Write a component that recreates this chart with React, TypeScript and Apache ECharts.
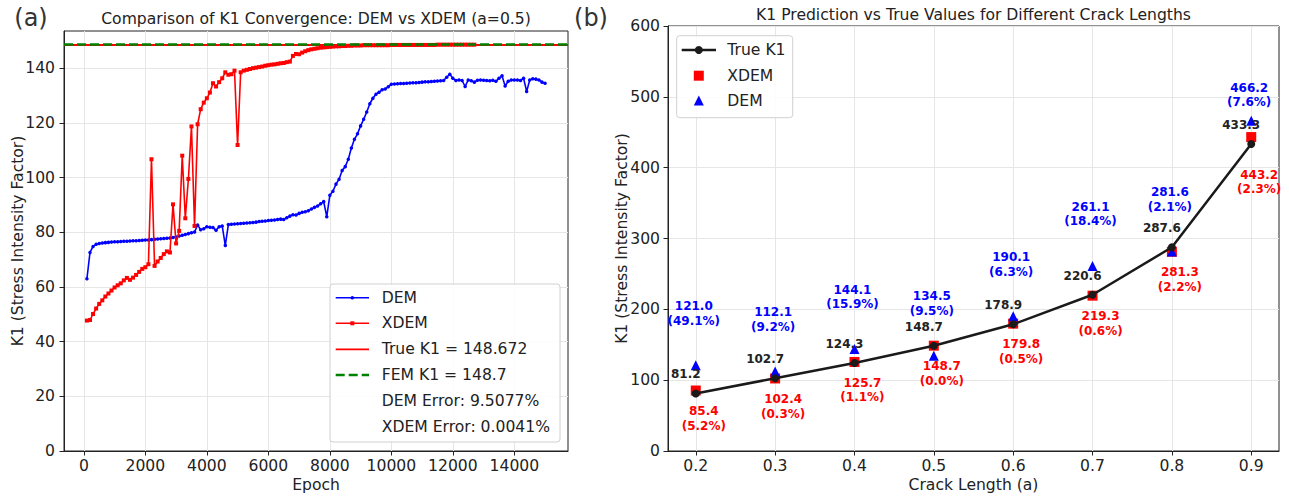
import React, { useEffect, useRef } from 'react';
import * as echarts from 'echarts';

// ---------- Panel (a): convergence history ----------
const EPOCHS = [
  100, 200, 300, 400, 500, 600, 700, 800, 900, 1000,
  1100, 1200, 1300, 1400, 1500, 1600, 1700, 1800, 1900, 2000,
  2100, 2200, 2300, 2400, 2500, 2600, 2700, 2800, 2900, 3000,
  3100, 3200, 3300, 3400, 3500, 3600, 3700, 3800, 3900, 4000,
  4100, 4200, 4300, 4400, 4500, 4600, 4700, 4800, 4900, 5000,
  5100, 5200, 5300, 5400, 5500, 5600, 5700, 5800, 5900, 6000,
  6100, 6200, 6300, 6400, 6500, 6600, 6700, 6800, 6900, 7000,
  7100, 7200, 7300, 7400, 7500, 7600, 7700, 7800, 7900, 8000,
  8100, 8200, 8300, 8400, 8500, 8600, 8700, 8800, 8900, 9000,
  9100, 9200, 9300, 9400, 9500, 9600, 9700, 9800, 9900, 10000,
  10100, 10200, 10300, 10400, 10500, 10600, 10700, 10800, 10900, 11000,
  11100, 11200, 11300, 11400, 11500, 11600, 11700, 11800, 11900, 12000,
  12100, 12200, 12300, 12400, 12500, 12600, 12700, 12800, 12900, 13000,
  13100, 13200, 13300, 13400, 13500, 13600, 13700, 13800, 13900, 14000,
  14100, 14200, 14300, 14400, 14500, 14600, 14700, 14800, 14900, 15000,
];

const DEM_K1 = [
  63.0, 72.6, 74.8, 75.6, 75.9, 76.1, 76.2, 76.3, 76.4, 76.5,
  76.5, 76.6, 76.7, 76.7, 76.8, 76.9, 76.9, 77.0, 77.1, 77.2,
  77.2, 77.3, 77.4, 77.5, 77.6, 77.7, 77.8, 77.9, 78.1, 78.3,
  78.6, 78.9, 79.2, 79.5, 79.8, 80.1, 82.6, 80.9, 81.3, 82.0,
  81.8, 81.7, 80.7, 82.0, 82.3, 75.2, 82.8, 82.9, 83.0, 83.1,
  83.2, 83.3, 83.4, 83.5, 83.6, 83.7, 83.9, 84.0, 84.1, 84.3,
  84.4, 84.5, 84.7, 84.8, 84.7, 85.3, 85.9, 86.4, 86.3, 86.9,
  87.3, 87.5, 87.9, 88.5, 89.1, 89.6, 90.4, 91.2, 85.7, 93.5,
  95.0, 97.6, 99.4, 102.6, 104.0, 106.7, 110.8, 114.0, 116.0, 118.9,
  121.3, 124.0, 127.0, 129.0, 130.5, 131.2, 132.1, 132.4, 133.2, 134.1,
  134.2, 134.3, 134.4, 134.4, 134.5, 134.6, 134.7, 134.7, 134.8, 134.9,
  135.0, 135.0, 135.1, 135.2, 135.3, 135.4, 135.5, 136.7, 137.8, 136.3,
  135.5, 135.7, 135.5, 133.3, 135.7, 135.4, 134.9, 135.6, 135.7, 135.6,
  135.5, 135.4, 135.6, 135.2, 136.3, 137.2, 133.5, 135.2, 135.7, 135.7,
  135.7, 135.5, 136.3, 131.5, 135.7, 136.1, 136.0, 135.7, 134.9, 134.5,
];

const XDEM_K1 = [
  47.7, 47.9, 50.1, 52.1, 53.8, 55.1, 56.5, 57.6, 58.7, 59.8,
  60.6, 61.3, 62.4, 63.3, 62.6, 63.4, 64.4, 65.5, 66.6, 67.2,
  68.3, 106.7, 67.7, 69.3, 70.6, 72.0, 73.0, 72.6, 90.2, 75.9,
  80.5, 108.0, 85.1, 99.5, 118.7, 82.3, 119.5, 125.0, 127.4, 129.0,
  131.1, 134.5, 133.3, 134.9, 136.3, 138.5, 137.6, 137.8, 139.1, 111.9,
  138.5, 139.1, 139.4, 139.7, 140.0, 140.2, 140.4, 140.6, 140.9, 141.1,
  141.3, 141.4, 141.6, 141.8, 141.9, 142.2, 142.4, 144.5, 145.2, 145.1,
  145.7, 146.2, 146.6, 146.9, 147.1, 147.3, 147.5, 147.6, 147.7, 147.8,
  147.9, 148.0, 148.0, 148.1, 148.1, 148.2, 148.2, 148.3, 148.3, 148.3,
  148.4, 148.4, 148.4, 148.4, 148.4, 148.4, 148.4, 148.4, 148.4, 148.5,
  148.5, 148.5, 148.5, 148.5, 148.5, 148.5, 148.5, 148.5, 148.5, 148.5,
  148.5, 148.5, 148.5, 148.5, 148.6, 148.6, 148.6, 148.6, 148.6, 148.6,
  148.6, 148.6, 148.6, 148.6, 148.6, 148.6, 148.6,
];

const TRUE_K1_A = 148.672;
const FEM_K1_A = 148.7;
const DEM_ERROR_TEXT = 'DEM Error: 9.5077%';
const XDEM_ERROR_TEXT = 'XDEM Error: 0.0041%';
const EPOCH_TICKS = [0, 2000, 4000, 6000, 8000, 10000, 12000, 14000];
const K1_TICKS_A = [0, 20, 40, 60, 80, 100, 120, 140];

// ---------- Panel (b): predictions vs crack length ----------
const CRACK = [0.2, 0.3, 0.4, 0.5, 0.6, 0.7, 0.8, 0.9];
const TRUE_K1 = [81.2, 102.7, 124.3, 148.7, 178.9, 220.6, 287.6, 433.3];
const XDEM_PRED = [85.4, 102.4, 125.7, 148.7, 179.8, 219.3, 281.3, 443.2];
const XDEM_ERR = [5.2, 0.3, 1.1, 0.0, 0.5, 0.6, 2.2, 2.3];
const DEM_PRED = [121.0, 112.1, 144.1, 134.5, 190.1, 261.1, 281.6, 466.2];
const DEM_ERR = [49.1, 9.2, 15.9, 9.5, 6.3, 18.4, 2.1, 7.6];
const CRACK_TICKS = [0.2, 0.3, 0.4, 0.5, 0.6, 0.7, 0.8, 0.9];

const FONT = '"DejaVu Sans", sans-serif';
const TXT = '#222222';
const GRIDC = '#e6e6e6';
const FS = 15.6;

function txt(x: number, y: number, text: string, opts: any = {}) {
  const align = opts.align || 'center';
  const valign = opts.valign || 'middle';
  return {
    type: 'text',
    x,
    y,
    rotation: opts.rotation || 0,
    z: 100,
    style: {
      text,
      fill: opts.color || TXT,
      fontSize: opts.size || FS,
      fontFamily: FONT,
      fontWeight: opts.weight || 'normal',
      align,
      verticalAlign: valign,
      textAlign: align,
      textVerticalAlign: valign,
    },
  };
}

function hline(x1: number, x2: number, y: number, color: string, width: number, dash?: number[]) {
  return {
    type: 'line',
    z: 101,
    shape: { x1, y1: y, x2, y2: y },
    style: { stroke: color, lineWidth: width, lineDash: dash || null },
  };
}

function buildOption() {
  const demData = EPOCHS.map((e, i) => [e, DEM_K1[i]]);
  const xdemData = XDEM_K1.map((v, i) => [EPOCHS[i], v]);
  const last = CRACK.length - 1;

  const trueData = CRACK.map((c, i) => ({
    value: [c, TRUE_K1[i]],
  }));
  const xdemPts = CRACK.map((c, i) => ({
    value: [c, XDEM_PRED[i]],
    label: { offset: i === last ? [8, 45] : [8, 28] },
  }));
  const demPts = CRACK.map((c, i) => ({
    value: [c, DEM_PRED[i]],
    label: { offset: i === last ? [-2, -26] : [-2, -52] },
  }));

  const boldLabel = {
    show: true,
    position: 'inside',
    fontSize: 12,
    fontWeight: 'bold',
    fontFamily: FONT,
    lineHeight: 14.5,
    align: 'center',
    textBorderWidth: 0,
    textBorderColor: 'transparent',
    opacity: 1,
  };

  const axisCommon = {
    axisLine: { show: true, onZero: false, lineStyle: { color: TXT, width: 1 } },
    axisTick: { show: true, length: 4.5, lineStyle: { color: TXT, width: 1 } },
    axisLabel: { color: TXT, fontSize: FS, fontFamily: FONT, formatter: (v: number) => String(v) },
    splitLine: { show: true, lineStyle: { color: GRIDC, width: 1 } },
  };

  // left legend geometry
  const L = { x: 330, y: 284, w: 230, h: 158 };
  const lRows = [297.7, 323.3, 349.3, 375, 401, 426.6];
  const lx1 = 335.7, lx2 = 369, lxm = 352.3, ltx = 381.7;
  // right legend geometry
  const R = { x: 676.7, y: 35.7, w: 116, h: 82 };
  const rRows = [50, 75.7, 101];
  const rx1 = 681.7, rx2 = 716, rxm = 698.8, rtx = 727.3;

  return {
    animation: false,
    backgroundColor: '#ffffff',
    grid: [
      { left: 64, top: 31, width: 504, height: 420, show: true, borderColor: TXT, borderWidth: 1, backgroundColor: 'transparent' },
      { left: 668, top: 26, width: 611, height: 425, show: true, borderColor: TXT, borderWidth: 1, backgroundColor: 'transparent' },
    ],
    xAxis: [
      {
        type: 'value', gridIndex: 0, min: -645, max: 15745,
        ...axisCommon,
        axisTick: { ...axisCommon.axisTick, customValues: EPOCH_TICKS },
        axisLabel: { ...axisCommon.axisLabel, margin: 7, customValues: EPOCH_TICKS },
      },
      {
        type: 'value', gridIndex: 1, min: 0.165, max: 0.935,
        ...axisCommon,
        axisTick: { ...axisCommon.axisTick, customValues: CRACK_TICKS },
        axisLabel: { ...axisCommon.axisLabel, margin: 7, customValues: CRACK_TICKS, formatter: (v: number) => v.toFixed(1) },
      },
    ],
    yAxis: [
      {
        type: 'value', gridIndex: 0, min: 0, max: 153.6,
        ...axisCommon,
        axisTick: { ...axisCommon.axisTick, customValues: K1_TICKS_A },
        axisLabel: { ...axisCommon.axisLabel, margin: 9, customValues: K1_TICKS_A },
      },
      {
        type: 'value', gridIndex: 1, min: 0, max: 600, interval: 100,
        ...axisCommon,
        axisLabel: { ...axisCommon.axisLabel, margin: 8 },
      },
    ],
    series: [
      {
        name: 'DEM', type: 'line', xAxisIndex: 0, yAxisIndex: 0,
        data: demData, showAllSymbol: true, symbol: 'circle', symbolSize: 3.5,
        itemStyle: { color: '#0000ff' }, lineStyle: { color: '#0000ff', width: 1.6 },
        z: 3,
      },
      {
        name: 'XDEM', type: 'line', xAxisIndex: 0, yAxisIndex: 0,
        data: xdemData, showAllSymbol: true, symbol: 'rect', symbolSize: 4,
        itemStyle: { color: '#ff0000' }, lineStyle: { color: '#ff0000', width: 1.6 },
        z: 4,
        markLine: {
          silent: true, symbol: 'none', label: { show: false }, animation: false,
          data: [
            { yAxis: TRUE_K1_A, lineStyle: { color: '#ff0000', width: 1.8, type: 'solid' } },
            { yAxis: FEM_K1_A, lineStyle: { color: '#008000', width: 2.5, type: [9, 4] } },
          ],
        },
      },
      {
        name: 'XDEM pred', type: 'scatter', xAxisIndex: 1, yAxisIndex: 1,
        data: xdemPts, symbol: 'rect', symbolSize: 10,
        itemStyle: { color: '#ff0000', opacity: 1 }, z: 2,
        label: {
          ...boldLabel, color: '#ff0000',
          formatter: (p: any) => `${XDEM_PRED[p.dataIndex].toFixed(1)}\n(${XDEM_ERR[p.dataIndex].toFixed(1)}%)`,
        },
      },
      {
        name: 'DEM pred', type: 'scatter', xAxisIndex: 1, yAxisIndex: 1,
        data: demPts, symbol: 'triangle', symbolSize: 10,
        itemStyle: { color: '#0000ff', opacity: 1 }, z: 3,
        label: {
          ...boldLabel, color: '#0000ff',
          formatter: (p: any) => `${DEM_PRED[p.dataIndex].toFixed(1)}\n(${DEM_ERR[p.dataIndex].toFixed(1)}%)`,
        },
      },
      {
        name: 'True K1', type: 'line', xAxisIndex: 1, yAxisIndex: 1,
        data: trueData, symbol: 'circle', symbolSize: 8, showAllSymbol: true,
        itemStyle: { color: '#1a1a1a' }, lineStyle: { color: '#1a1a1a', width: 2.5 },
        z: 4,
        label: {
          ...boldLabel, color: '#222222', offset: [-10, -19],
          formatter: (p: any) => TRUE_K1[p.dataIndex].toFixed(1),
        },
      },
    ],
    graphic: [
      // panel labels and titles
      txt(31, 18, '(a)', { size: 24, color: '#333333' }),
      txt(591, 18, '(b)', { size: 24, color: '#333333' }),
      txt(316, 19, 'Comparison of K1 Convergence: DEM vs XDEM (a=0.5)', {}),
      txt(973.5, 15, 'K1 Prediction vs True Values for Different Crack Lengths', {}),
      // axis names
      txt(316, 485, 'Epoch', {}),
      txt(973.5, 485, 'Crack Length (a)', {}),
      txt(18.3, 241, 'K1 (Stress Intensity Factor)', { rotation: Math.PI / 2 }),
      txt(622, 238.5, 'K1 (Stress Intensity Factor)', { rotation: Math.PI / 2 }),
      // left legend
      {
        type: 'rect', z: 99,
        shape: { x: L.x, y: L.y, width: L.w, height: L.h, r: 3 },
        style: { fill: 'rgba(255,255,255,0.85)', stroke: '#d0d0d0', lineWidth: 1 },
      },
      hline(lx1, lx2, lRows[0], '#0000ff', 1.6),
      { type: 'circle', z: 102, shape: { cx: lxm, cy: lRows[0], r: 1.8 }, style: { fill: '#0000ff' } },
      hline(lx1, lx2, lRows[1], '#ff0000', 1.6),
      { type: 'rect', z: 102, shape: { x: lxm - 2, y: lRows[1] - 2, width: 4, height: 4 }, style: { fill: '#ff0000' } },
      hline(lx1, lx2, lRows[2], '#ff0000', 1.8),
      hline(lx1, lx2, lRows[3], '#008000', 2.5, [9, 4]),
      txt(ltx, lRows[0], 'DEM', { align: 'left' }),
      txt(ltx, lRows[1], 'XDEM', { align: 'left' }),
      txt(ltx, lRows[2], `True K1 = ${TRUE_K1_A}`, { align: 'left' }),
      txt(ltx, lRows[3], `FEM K1 = ${FEM_K1_A}`, { align: 'left' }),
      txt(ltx, lRows[4], DEM_ERROR_TEXT, { align: 'left' }),
      txt(ltx, lRows[5], XDEM_ERROR_TEXT, { align: 'left' }),
      // right legend
      {
        type: 'rect', z: 99,
        shape: { x: R.x, y: R.y, width: R.w, height: R.h, r: 3 },
        style: { fill: 'rgba(255,255,255,0.85)', stroke: '#d0d0d0', lineWidth: 1 },
      },
      hline(rx1, rx2, rRows[0], '#1a1a1a', 2.5),
      { type: 'circle', z: 102, shape: { cx: rxm, cy: rRows[0], r: 4 }, style: { fill: '#1a1a1a' } },
      { type: 'rect', z: 102, shape: { x: rxm - 5, y: rRows[1] - 5, width: 10, height: 10 }, style: { fill: '#ff0000' } },
      {
        type: 'polygon', z: 102,
        shape: { points: [[rxm, rRows[2] - 5.5], [rxm - 5, rRows[2] + 4.5], [rxm + 5, rRows[2] + 4.5]] },
        style: { fill: '#0000ff' },
      },
      txt(rtx, rRows[0], 'True K1', { align: 'left' }),
      txt(rtx, rRows[1], 'XDEM', { align: 'left' }),
      txt(rtx, rRows[2], 'DEM', { align: 'left' }),
    ],
  };
}

export default function App() {
  const ref = useRef<HTMLDivElement>(null);
  useEffect(() => {
    if (!ref.current) return;
    const chart = echarts.init(ref.current, undefined, { renderer: 'svg' });
    chart.setOption(buildOption() as any);
    return () => chart.dispose();
  }, []);
  return (
    <div
      ref={ref}
      style={{ position: 'fixed', left: 0, top: 0, width: 1289, height: 499, background: '#fff' }}
    />
  );
}
